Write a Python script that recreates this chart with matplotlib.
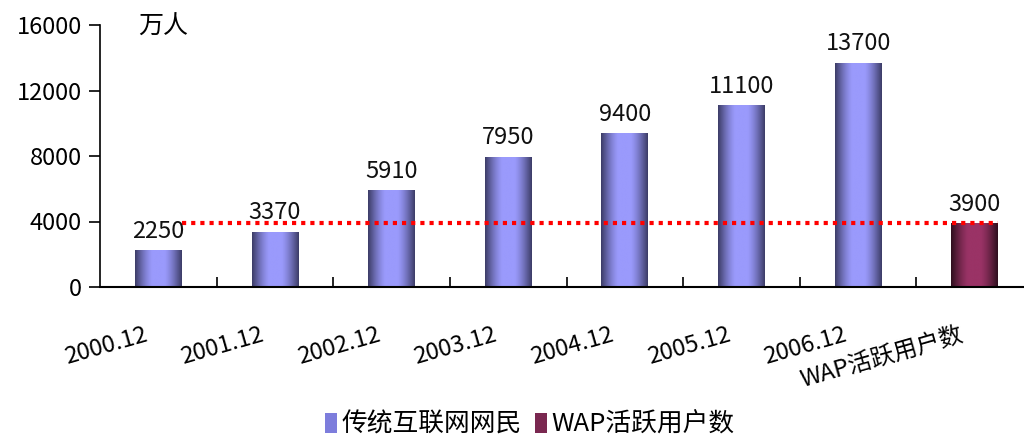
import numpy as np
import matplotlib
matplotlib.use('Agg')
from matplotlib import pyplot as plt
from matplotlib.colors import to_rgb
from matplotlib.patches import Patch
from matplotlib.transforms import ScaledTranslation

plt.rcParams['font.family'] = ['Noto Sans CJK SC', 'DejaVu Sans']

# data
categories = ['2000.12', '2001.12', '2002.12', '2003.12', '2004.12',
              '2005.12', '2006.12', 'WAP活跃用户数']
netizens = [2250, 3370, 5910, 7950, 9400, 11100, 13700]
wap_users = 3900
y_ticks = [0, 4000, 8000, 12000, 16000]
series_names = ['传统互联网网民', 'WAP活跃用户数']


def gradient(dark, light, n=200):
    # cylinder-like shading: dark edges, light middle
    t = np.linspace(0, 1, n)
    w = np.clip(1.1 * np.sin(np.pi * t), 0, 1)[:, None]
    d, l = np.array(to_rgb(dark)), np.array(to_rgb(light))
    return (d * (1 - w) + l * w)[None, :, :]


blue_grad = gradient('#3c3c66', '#9a9afc')
red_grad = gradient('#2e0f1e', '#9a3366')

fig = plt.figure(figsize=(10.24, 4.38), dpi=100)
ax = fig.add_axes([100 / 1024, 151 / 438, 933 / 1024, 262 / 438])

x = np.arange(len(categories))
values = netizens + [wap_users]
width = 0.4
bars = ax.bar(x, values, width=width, color='none', edgecolor='none', zorder=2)

for i, b in enumerate(bars):
    img = red_grad if i == len(bars) - 1 else blue_grad
    x0 = b.get_x()
    im = ax.imshow(img, aspect='auto',
                   extent=[x0, x0 + b.get_width(), 0, b.get_height()],
                   zorder=2, interpolation='bilinear')
    im.set_clip_path(b)
    ax.text(b.get_x() + b.get_width() / 2, b.get_height() + 450, str(values[i]),
            ha='center', va='bottom', fontsize=17, color='#111111', zorder=4)

# dotted reference line at WAP level
ax.plot([x[0] + width / 2, x[-1] + width / 2], [wap_users, wap_users],
        color='#ff0000', linestyle=(0, (1, 1.2)), linewidth=3, zorder=3)

ax.set_xlim(-0.5, len(categories) - 0.5)
ax.set_ylim(0, 16000)
ax.set_yticks(y_ticks)
ax.set_yticklabels([str(v) for v in y_ticks], fontsize=17)
ax.tick_params(axis='y', direction='out', length=8, width=1.2, pad=5)

ax.set_xticks(x)
ax.set_xticklabels(categories, rotation=16, ha='right', rotation_mode='anchor', fontsize=17)
ax.tick_params(axis='x', length=0, pad=26)
shift = ScaledTranslation(-15 / 100, 0, fig.dpi_scale_trans)
for lab in ax.get_xticklabels():
    lab.set_transform(lab.get_transform() + shift)
ax.set_xticks(x[:-1] + 0.5, minor=True)
ax.tick_params(axis='x', which='minor', direction='in', length=7, width=1.2)

for s in ['top', 'right']:
    ax.spines[s].set_visible(False)
ax.spines['left'].set_linewidth(1.2)
ax.spines['bottom'].set_linewidth(1.5)

fig.text(163 / 1024, 1 - 27 / 438, '万人', ha='center', va='center', fontsize=18)

handles = [Patch(facecolor='#7d7ddc', edgecolor='none'),
           Patch(facecolor='#7a2850', edgecolor='none')]
fig.legend(handles, series_names, loc='center', bbox_to_anchor=(530 / 1024, 1 - 425 / 438),
           ncol=2, frameon=False, fontsize=18.5, handlelength=0.45, handleheight=0.8,
           handletextpad=0.2, columnspacing=0.5)

fig.savefig('out.png', dpi=100)
